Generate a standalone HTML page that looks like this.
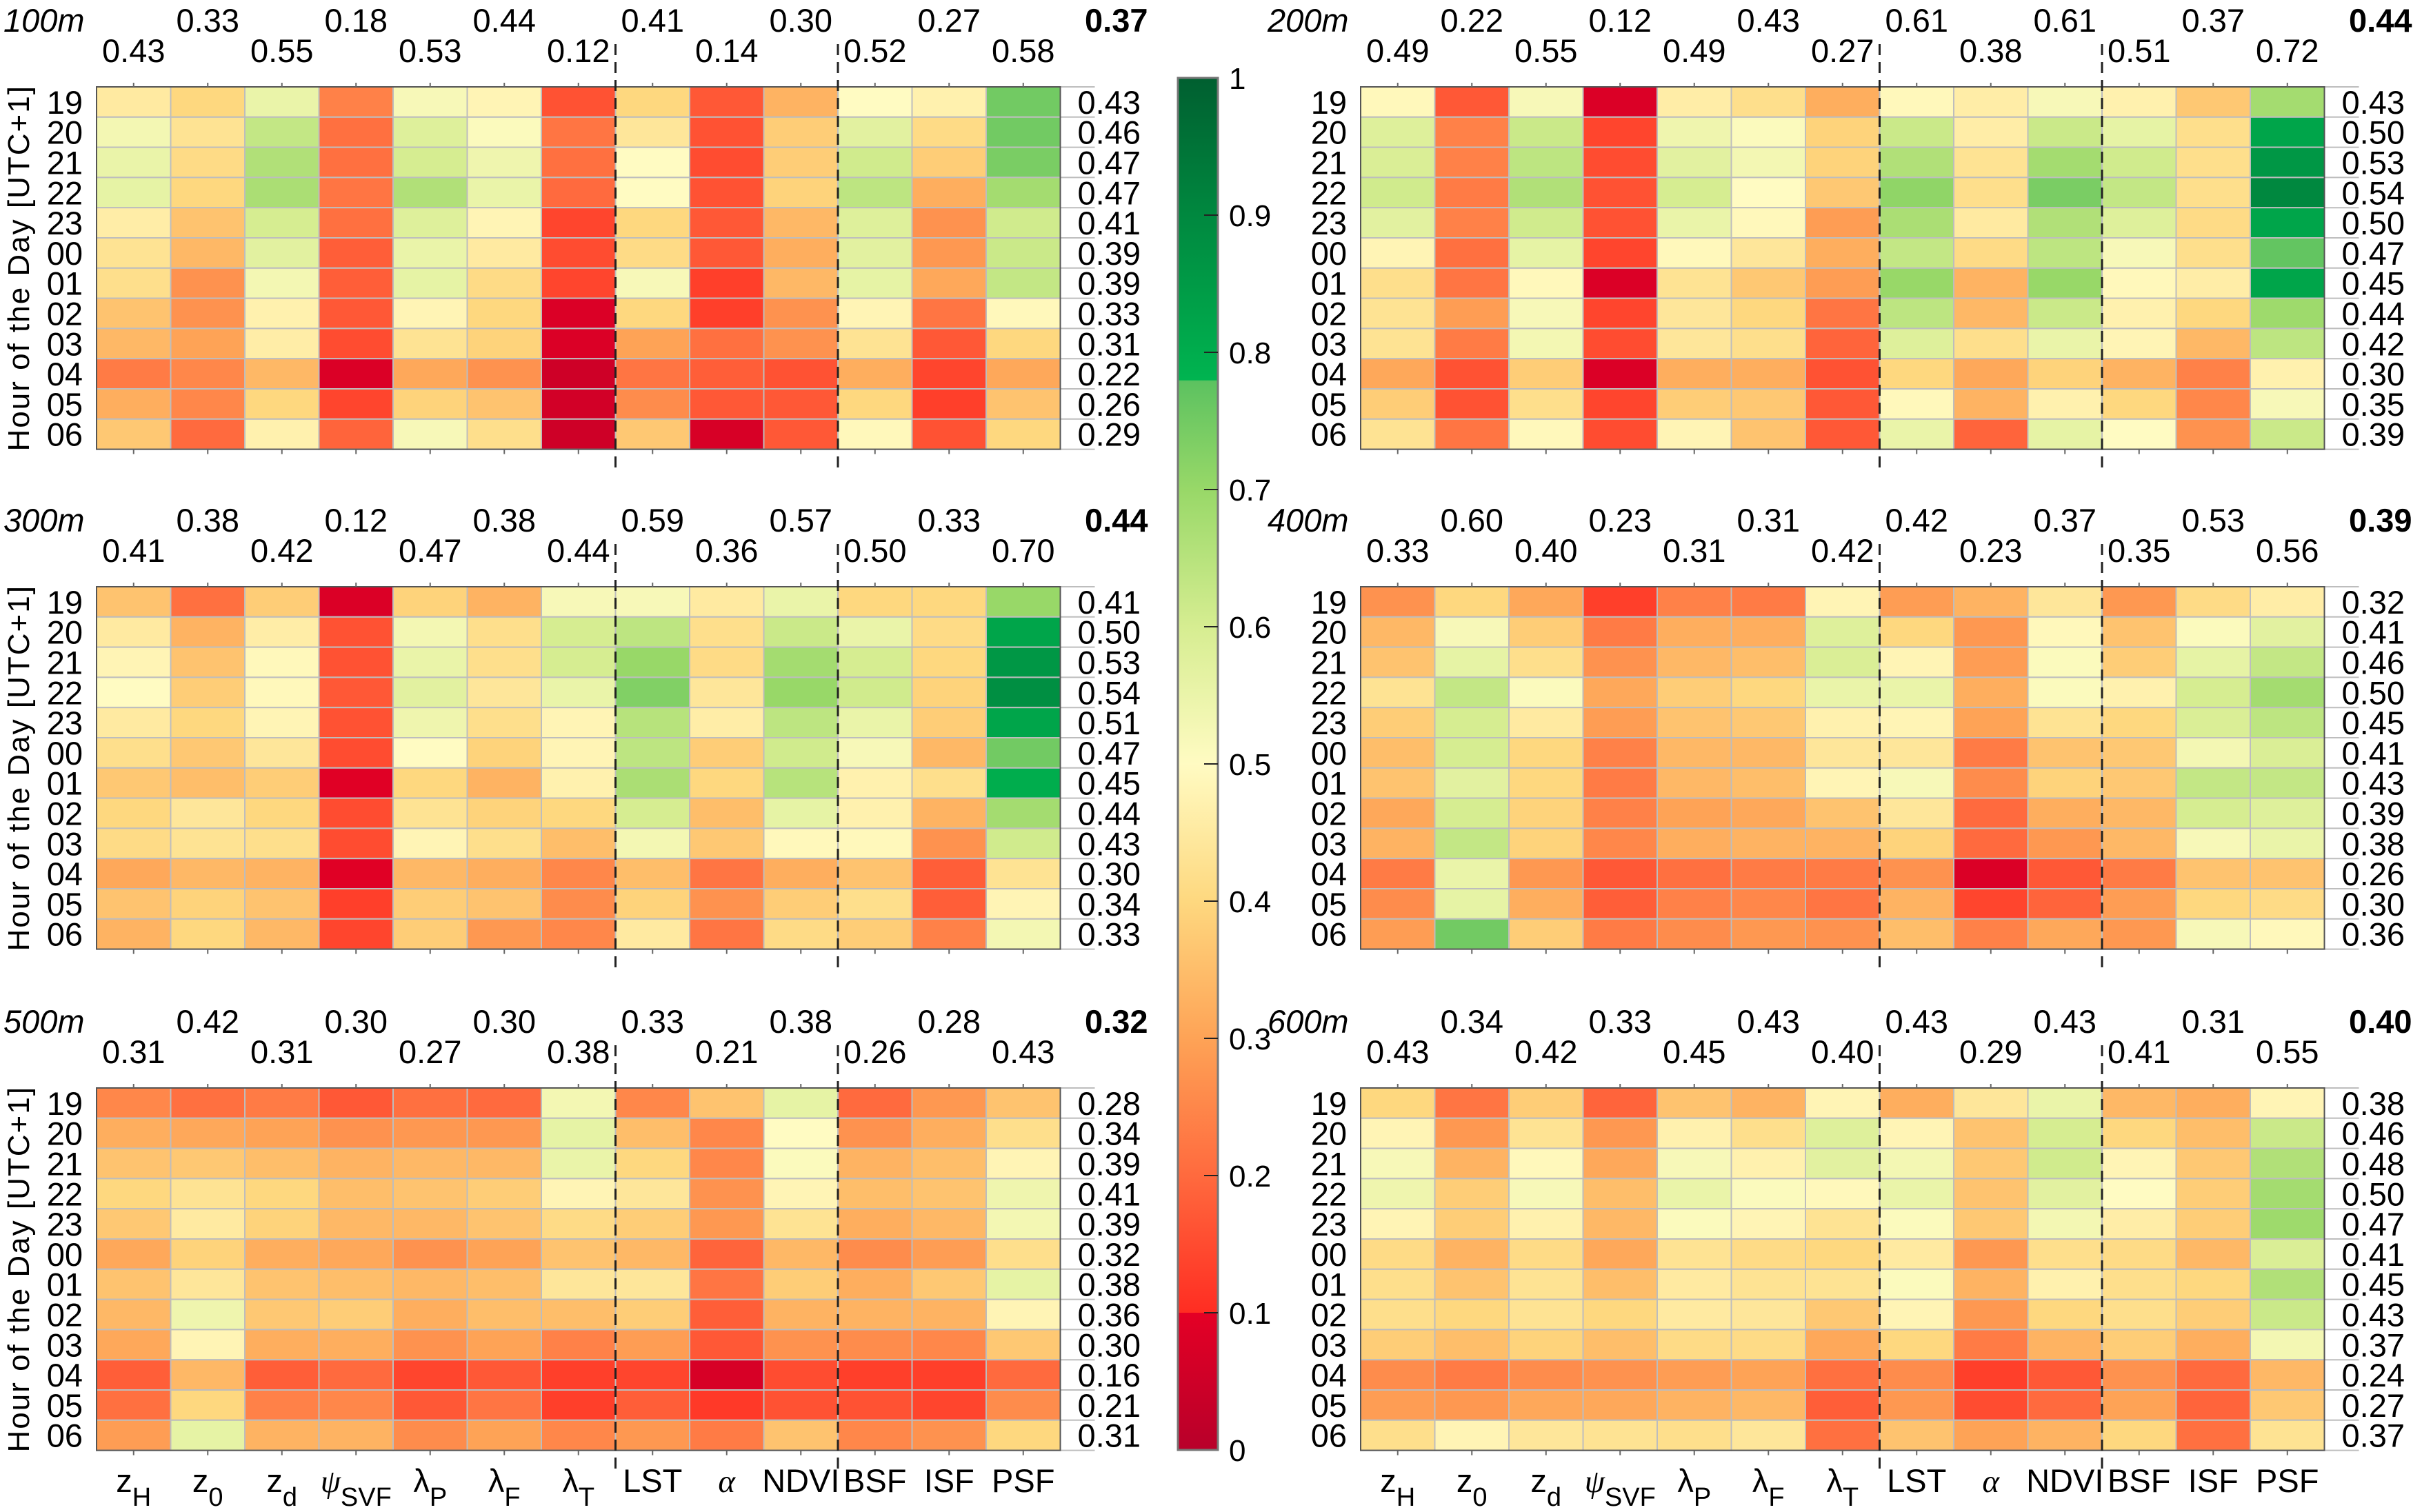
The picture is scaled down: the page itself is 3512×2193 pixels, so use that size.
<!DOCTYPE html>
<html><head><meta charset="utf-8"><style>
html,body{margin:0;padding:0;background:#fff;}
svg{display:block;font-family:"Liberation Sans",Arial,sans-serif;}
</style></head><body>
<svg id="chart" xmlns="http://www.w3.org/2000/svg" width="3512" height="2193" viewBox="0 0 3512 2193"></svg>
<script>
const columns = ['zH','z0','zd','ψSVF','λP','λF','λT','LST','α','NDVI','BSF','ISF','PSF'];
const hours = ['19','20','21','22','23','00','01','02','03','04','05','06'];
const panelNames = ['100m','200m','300m','400m','500m','600m'];
const overall = [0.37,0.44,0.44,0.39,0.32,0.40];
const colMeans100 = [0.43,0.33,0.55,0.18,0.53,0.44,0.12,0.41,0.14,0.30,0.52,0.27,0.58];
const colMeans200 = [0.49,0.22,0.55,0.12,0.49,0.43,0.27,0.61,0.38,0.61,0.51,0.37,0.72];
const colMeans300 = [0.41,0.38,0.42,0.12,0.47,0.38,0.44,0.59,0.36,0.57,0.50,0.33,0.70];
const colMeans400 = [0.33,0.60,0.40,0.23,0.31,0.31,0.42,0.42,0.23,0.37,0.35,0.53,0.56];
const colMeans500 = [0.31,0.42,0.31,0.30,0.27,0.30,0.38,0.33,0.21,0.38,0.26,0.28,0.43];
const colMeans600 = [0.43,0.34,0.42,0.33,0.45,0.43,0.40,0.43,0.29,0.43,0.41,0.31,0.55];
const rowMeans100 = [0.43,0.46,0.47,0.47,0.41,0.39,0.39,0.33,0.31,0.22,0.26,0.29];
const rowMeans200 = [0.43,0.50,0.53,0.54,0.50,0.47,0.45,0.44,0.42,0.30,0.35,0.39];
const rowMeans300 = [0.41,0.50,0.53,0.54,0.51,0.47,0.45,0.44,0.43,0.30,0.34,0.33];
const rowMeans400 = [0.32,0.41,0.46,0.50,0.45,0.41,0.43,0.39,0.38,0.26,0.30,0.36];
const rowMeans500 = [0.28,0.34,0.39,0.41,0.39,0.32,0.38,0.36,0.30,0.16,0.21,0.31];
const rowMeans600 = [0.38,0.46,0.48,0.50,0.47,0.41,0.45,0.43,0.37,0.24,0.27,0.37];
const values100 = [
[0.45,0.40,0.55,0.24,0.52,0.48,0.16,0.40,0.17,0.33,0.50,0.47,0.75],
[0.53,0.43,0.63,0.21,0.58,0.51,0.22,0.44,0.16,0.38,0.57,0.41,0.75],
[0.55,0.41,0.66,0.21,0.60,0.54,0.21,0.50,0.15,0.38,0.61,0.38,0.74],
[0.56,0.40,0.67,0.22,0.66,0.55,0.20,0.50,0.16,0.39,0.64,0.32,0.68],
[0.46,0.36,0.60,0.21,0.58,0.48,0.14,0.40,0.17,0.34,0.58,0.27,0.61],
[0.43,0.34,0.57,0.18,0.55,0.45,0.15,0.41,0.17,0.32,0.57,0.28,0.62],
[0.42,0.27,0.53,0.18,0.56,0.41,0.14,0.52,0.13,0.34,0.56,0.31,0.63],
[0.36,0.27,0.47,0.17,0.48,0.40,0.08,0.40,0.13,0.27,0.48,0.22,0.49],
[0.34,0.30,0.46,0.15,0.43,0.39,0.08,0.30,0.21,0.27,0.43,0.17,0.40],
[0.23,0.25,0.34,0.08,0.31,0.27,0.05,0.22,0.18,0.16,0.32,0.14,0.31],
[0.32,0.25,0.40,0.14,0.39,0.36,0.06,0.26,0.17,0.17,0.40,0.13,0.36],
[0.37,0.20,0.47,0.19,0.52,0.42,0.05,0.37,0.07,0.17,0.49,0.16,0.40]];
const values200 = [
[0.49,0.17,0.52,0.08,0.46,0.42,0.32,0.49,0.46,0.52,0.47,0.37,0.68],
[0.58,0.24,0.62,0.14,0.54,0.51,0.39,0.62,0.46,0.62,0.56,0.42,0.82],
[0.59,0.24,0.64,0.15,0.57,0.53,0.39,0.66,0.43,0.68,0.61,0.42,0.86],
[0.61,0.23,0.66,0.16,0.60,0.50,0.37,0.71,0.42,0.74,0.63,0.42,0.90],
[0.57,0.24,0.61,0.16,0.55,0.49,0.29,0.67,0.45,0.66,0.58,0.41,0.82],
[0.48,0.21,0.56,0.14,0.49,0.44,0.32,0.63,0.41,0.64,0.52,0.42,0.77],
[0.42,0.22,0.49,0.08,0.43,0.37,0.29,0.70,0.33,0.70,0.49,0.46,0.82],
[0.43,0.29,0.52,0.14,0.44,0.40,0.22,0.64,0.34,0.62,0.47,0.40,0.69],
[0.43,0.23,0.53,0.15,0.44,0.42,0.19,0.58,0.42,0.55,0.48,0.34,0.64],
[0.31,0.16,0.38,0.08,0.32,0.32,0.16,0.40,0.31,0.39,0.33,0.24,0.47],
[0.38,0.16,0.42,0.14,0.38,0.37,0.17,0.49,0.33,0.47,0.40,0.25,0.52],
[0.43,0.22,0.49,0.15,0.48,0.36,0.17,0.55,0.19,0.56,0.50,0.27,0.62]];
const values300 = [
[0.36,0.21,0.38,0.08,0.39,0.33,0.52,0.52,0.45,0.55,0.40,0.40,0.70],
[0.45,0.33,0.46,0.16,0.53,0.42,0.60,0.64,0.42,0.62,0.55,0.41,0.82],
[0.48,0.36,0.49,0.16,0.55,0.42,0.60,0.70,0.41,0.68,0.60,0.40,0.86],
[0.50,0.38,0.49,0.17,0.57,0.44,0.55,0.73,0.44,0.70,0.61,0.39,0.88],
[0.45,0.40,0.48,0.16,0.54,0.42,0.48,0.65,0.46,0.64,0.55,0.38,0.82],
[0.42,0.37,0.44,0.15,0.50,0.39,0.48,0.64,0.38,0.61,0.52,0.34,0.75],
[0.37,0.35,0.38,0.09,0.40,0.33,0.47,0.67,0.40,0.65,0.47,0.42,0.80],
[0.40,0.44,0.40,0.15,0.43,0.39,0.40,0.60,0.35,0.56,0.47,0.33,0.68],
[0.41,0.43,0.42,0.15,0.48,0.42,0.35,0.53,0.37,0.49,0.49,0.27,0.61],
[0.31,0.34,0.33,0.09,0.34,0.32,0.25,0.35,0.22,0.32,0.36,0.18,0.43],
[0.36,0.39,0.36,0.13,0.38,0.36,0.26,0.39,0.27,0.38,0.42,0.18,0.48],
[0.33,0.40,0.34,0.14,0.38,0.28,0.25,0.45,0.22,0.41,0.38,0.24,0.53]];
const values400 = [
[0.27,0.40,0.31,0.13,0.24,0.23,0.48,0.29,0.33,0.44,0.28,0.41,0.46],
[0.34,0.52,0.38,0.23,0.32,0.32,0.58,0.40,0.28,0.49,0.36,0.51,0.57],
[0.36,0.56,0.42,0.27,0.34,0.35,0.59,0.48,0.29,0.51,0.38,0.56,0.63],
[0.43,0.63,0.51,0.31,0.38,0.40,0.55,0.55,0.32,0.51,0.47,0.60,0.68],
[0.38,0.60,0.45,0.29,0.36,0.37,0.47,0.48,0.30,0.43,0.40,0.59,0.64],
[0.35,0.60,0.40,0.24,0.34,0.34,0.44,0.44,0.23,0.36,0.37,0.53,0.59],
[0.36,0.57,0.40,0.23,0.34,0.35,0.48,0.52,0.26,0.39,0.37,0.63,0.63],
[0.31,0.60,0.39,0.24,0.30,0.31,0.36,0.44,0.20,0.32,0.34,0.60,0.58],
[0.33,0.63,0.39,0.25,0.32,0.33,0.33,0.39,0.20,0.28,0.34,0.52,0.55],
[0.23,0.55,0.28,0.17,0.21,0.23,0.23,0.27,0.08,0.17,0.23,0.36,0.36],
[0.26,0.56,0.32,0.18,0.24,0.25,0.22,0.33,0.14,0.19,0.29,0.40,0.41],
[0.29,0.75,0.38,0.23,0.26,0.28,0.27,0.35,0.24,0.31,0.28,0.52,0.49]];
const values500 = [
[0.25,0.21,0.23,0.17,0.21,0.20,0.53,0.25,0.36,0.56,0.20,0.28,0.36],
[0.32,0.31,0.30,0.27,0.28,0.28,0.56,0.35,0.25,0.50,0.27,0.32,0.42],
[0.36,0.37,0.35,0.33,0.34,0.34,0.55,0.40,0.25,0.51,0.33,0.35,0.48],
[0.40,0.43,0.40,0.35,0.36,0.38,0.48,0.44,0.27,0.48,0.35,0.36,0.54],
[0.37,0.45,0.39,0.34,0.34,0.36,0.41,0.38,0.28,0.43,0.32,0.34,0.53],
[0.31,0.39,0.32,0.31,0.27,0.30,0.36,0.34,0.19,0.34,0.26,0.29,0.42],
[0.36,0.44,0.36,0.35,0.34,0.35,0.44,0.44,0.22,0.38,0.32,0.37,0.56],
[0.34,0.54,0.37,0.38,0.32,0.35,0.35,0.38,0.18,0.33,0.33,0.33,0.48],
[0.31,0.48,0.32,0.32,0.27,0.30,0.24,0.29,0.17,0.27,0.26,0.25,0.37],
[0.18,0.34,0.18,0.20,0.14,0.17,0.13,0.14,0.07,0.15,0.13,0.13,0.20],
[0.21,0.40,0.24,0.25,0.17,0.22,0.13,0.18,0.12,0.16,0.16,0.14,0.26],
[0.29,0.56,0.33,0.33,0.26,0.30,0.25,0.28,0.23,0.36,0.25,0.27,0.40]];
const values600 = [
[0.40,0.22,0.38,0.19,0.36,0.33,0.48,0.32,0.44,0.55,0.34,0.32,0.48],
[0.48,0.28,0.43,0.28,0.47,0.42,0.58,0.48,0.36,0.60,0.40,0.35,0.62],
[0.52,0.33,0.49,0.31,0.52,0.47,0.57,0.53,0.37,0.61,0.48,0.37,0.66],
[0.54,0.38,0.52,0.35,0.55,0.51,0.49,0.55,0.36,0.57,0.50,0.38,0.68],
[0.48,0.38,0.47,0.34,0.51,0.48,0.43,0.51,0.37,0.53,0.46,0.38,0.69],
[0.41,0.33,0.41,0.31,0.43,0.41,0.40,0.45,0.28,0.42,0.41,0.34,0.59],
[0.42,0.36,0.43,0.35,0.45,0.43,0.43,0.51,0.33,0.47,0.42,0.40,0.66],
[0.42,0.40,0.43,0.40,0.45,0.44,0.37,0.48,0.28,0.40,0.42,0.38,0.62],
[0.38,0.35,0.39,0.35,0.41,0.41,0.31,0.40,0.23,0.33,0.38,0.32,0.53],
[0.26,0.23,0.26,0.27,0.29,0.30,0.21,0.26,0.13,0.17,0.27,0.20,0.34],
[0.29,0.28,0.31,0.31,0.33,0.34,0.18,0.28,0.15,0.20,0.30,0.19,0.37],
[0.42,0.48,0.44,0.43,0.42,0.44,0.21,0.36,0.30,0.33,0.40,0.21,0.43]];
const cbTicks = [0,0.1,0.2,0.3,0.4,0.5,0.6,0.7,0.8,0.9,1];
const cbTickLabels = ['0','0.1','0.2','0.3','0.4','0.5','0.6','0.7','0.8','0.9','1'];

const allValues=[values100,values200,values300,values400,values500,values600];
const allCol=[colMeans100,colMeans200,colMeans300,colMeans400,colMeans500,colMeans600];
const allRow=[rowMeans100,rowMeans200,rowMeans300,rowMeans400,rowMeans500,rowMeans600];

const stops=[[0,'#b8002a'],[0.0999,'#e40025'],[0.1,'#ff2d22'],[0.2,'#ff6a3e'],[0.3,'#fea356'],[0.4,'#fed87f'],[0.5,'#fffbc2'],[0.6,'#d6ed91'],[0.7,'#98d868'],[0.779,'#5cc260'],[0.78,'#00b450'],[0.9,'#00883f'],[1,'#005f30']];
function hex(h){return [1,3,5].map(i=>parseInt(h.substr(i,2),16));}
function cmap(v){v=Math.max(0,Math.min(1,v));for(let i=1;i<stops.length;i++){if(v<=stops[i][0]){const a=stops[i-1],b=stops[i];const t=(v-a[0])/(b[0]-a[0]);const ca=hex(a[1]),cb=hex(b[1]);return 'rgb('+ca.map((c,k)=>Math.round(c+(cb[k]-c)*t)).join(',')+')';}}return stops[stops.length-1][1];}

const NS='http://www.w3.org/2000/svg';
const svg=document.getElementById('chart');
function el(tag,attrs,parent,text){const e=document.createElementNS(NS,tag);for(const k in attrs)e.setAttribute(k,attrs[k]);if(text!==undefined)e.textContent=text;(parent||svg).appendChild(e);return e;}

const CW=107.5, CH=43.8, GX=[140,1973], GY=[126,851,1578];
const xScale=(px,i)=>px+i*CW;
const yScale=(py,j)=>py+j*CH;

for(let p=0;p<6;p++){
  const px=GX[p%2], py=GY[Math.floor(p/2)], W=CW*13, H=CH*12;
  const g=el('g',{});
  
  
  const vals=allValues[p];
  for(let r=0;r<12;r++)for(let c=0;c<13;c++){
    const rc=el('rect',{x:xScale(px,c),y:yScale(py,r),width:CW,height:CH,fill:cmap(vals[r][c]),stroke:'#bdbdbd','stroke-width':2},g);
    
    
  }
  for(let r=1;r<12;r++) el('line',{x1:px+W,x2:px+W+50,y1:yScale(py,r),y2:yScale(py,r),stroke:'#bdbdbd','stroke-width':2},g);
  el('line',{x1:px+W,x2:px+W+50,y1:py,y2:py,stroke:'#bdbdbd','stroke-width':2},g);
  el('line',{x1:px+W,x2:px+W+50,y1:py+H,y2:py+H,stroke:'#bdbdbd','stroke-width':2},g);
  el('rect',{x:px,y:py,width:W,height:H,fill:'none',stroke:'#555','stroke-width':2},g);
  for(let c=0;c<13;c++){const cx=xScale(px,c)+CW/2;
    el('line',{x1:cx,x2:cx,y1:py+H,y2:py+H+7,stroke:'#666','stroke-width':2},g);
    el('line',{x1:cx,x2:cx,y1:py,y2:py-6,stroke:'#666','stroke-width':2},g);}
  [7,10].forEach(c=>{const d=el('line',{x1:xScale(px,c),x2:xScale(px,c),y1:py-62,y2:py+H+34,stroke:'#222','stroke-width':3,'stroke-dasharray':'16,10'},g);
    });
  const nm=el('text',{x:px-135,y:py-80,'font-size':47,'font-style':'italic'},g,panelNames[p]);
  
  const cm=allCol[p];
  for(let c=0;c<13;c++){
    const t=el('text',{x:xScale(px,c)+CW/2,y:(c%2?py-80:py-36),'font-size':47,'text-anchor':'middle'},g,cm[c].toFixed(2));
    
  }
  const ov=el('text',{x:px+W+127,y:py-80,'font-size':47,'font-weight':'bold','text-anchor':'end'},g,overall[p].toFixed(2));
  
  const rm=allRow[p];
  for(let r=0;r<12;r++){
    const t=el('text',{x:px+W+25,y:yScale(py,r)+CH/2+17,'font-size':47},g,rm[r].toFixed(2));
    
    const h=el('text',{x:px-20,y:yScale(py,r)+CH/2+17,'font-size':47,'text-anchor':'end'},g,hours[r]);
    
  }
  if(p%2===0){
    const cy=py+H/2;
    const yt=el('text',{x:0,y:0,'font-size':44,'text-anchor':'middle','letter-spacing':'2',transform:'translate(42,'+cy+') rotate(-90)'},g,'Hour of the Day [UTC+1]');
    
  }
  if(p>=4){
    const subs=[['z','H'],['z','0'],['z','d'],['ψ','SVF'],['λ','P'],['λ','F'],['λ','T'],['LST',''],['α',''],['NDVI',''],['BSF',''],['ISF',''],['PSF','']];
    for(let c=0;c<13;c++){
      const cx=xScale(px,c)+CW/2;
      const t=el('text',{x:cx,y:2164,'font-size':47,'text-anchor':'middle'},g);
      
      const a=el('tspan',{'font-family':(c==3||c==8)?'"Liberation Serif",serif':'inherit','font-style':(c==3||c==8)?'italic':'normal'},t,subs[c][0]);
      if(subs[c][1]) el('tspan',{dy:20,'font-size':38},t,subs[c][1]);
    }
  }
}
// colorbar
const CBX=1708,CBY=113,CBW=58,CBH=1990;
const cbs=(v)=>CBY+CBH*(1-v);
const grad=el('defs',{});
const lg=el('linearGradient',{id:'cbg',x1:0,y1:1,x2:0,y2:0},grad);
stops.forEach(s=>el('stop',{offset:s[0],'stop-color':s[1]},lg));
const cb=el('rect',{x:CBX,y:CBY,width:CBW,height:CBH,fill:'url(#cbg)',stroke:'#777','stroke-width':3});

cbTicks.forEach((v,i)=>{
  if(i>0&&i<cbTicks.length-1) el('line',{x1:CBX+CBW-20,x2:CBX+CBW,y1:cbs(v),y2:cbs(v),stroke:'#222','stroke-width':2});
  const t=el('text',{x:1782,y:cbs(v)+16,'font-size':44},svg,cbTickLabels[i]);
  
});
</script>
</body></html>
